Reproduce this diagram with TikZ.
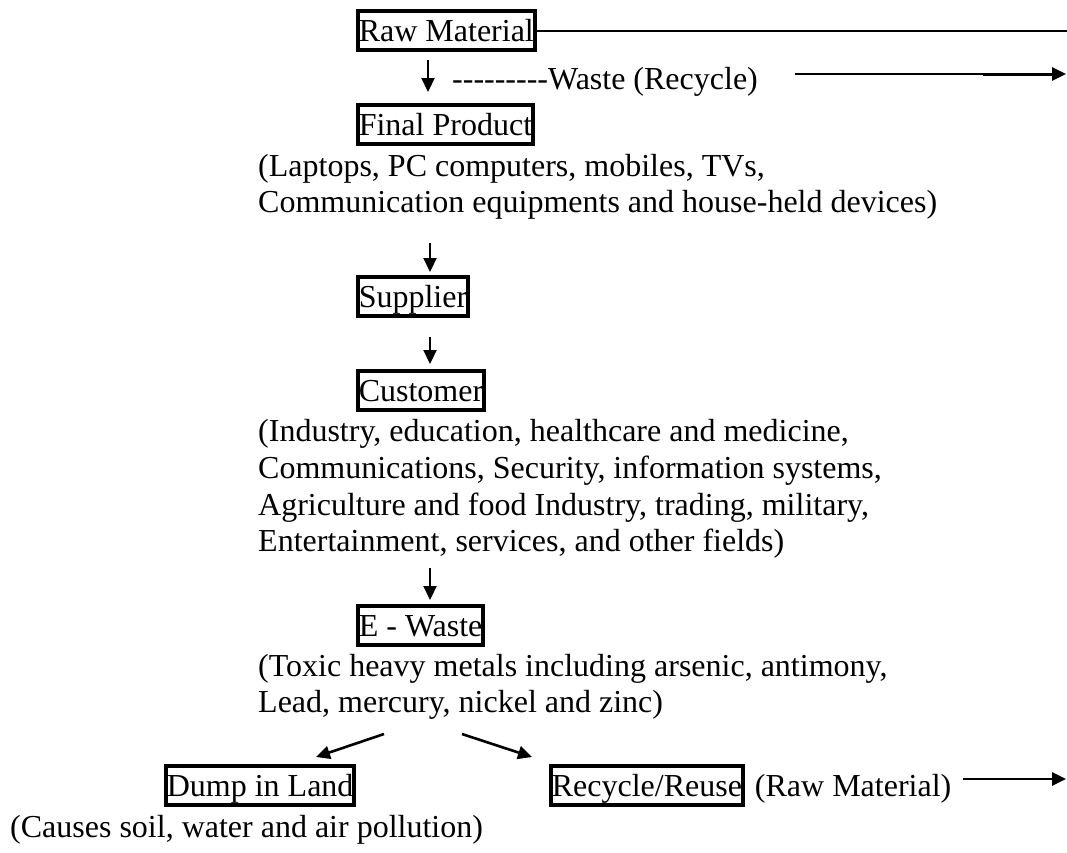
\documentclass[tikz,border=0pt]{standalone}
\usepackage{fontspec}
\setmainfont{Liberation Serif}
\usetikzlibrary{arrows.meta,calc}
\newcommand\hyp{-\kern0pt}
\begin{document}
\begin{tikzpicture}[x=1pt,y=-1pt,
  every node/.style={font=\fontsize{32}{36}\selectfont},
  boxnode/.style={draw,line width=4pt,inner xsep=0.8pt,inner ysep=2.8pt,text height=27.5pt,text depth=6.5pt,anchor=base west},
  txt/.style={inner sep=0pt,anchor=base west},
  arr/.style={line width=2.2pt,-{Triangle[length=14pt,width=13pt]}},
  darr/.style={line width=2.6pt,-{Triangle[length=14pt,width=13pt]}},
  ln/.style={line width=2pt}]
\useasboundingbox (0,0) rectangle (1067,852);
% boxes
\node[boxnode] (raw) at (356,41) {Raw Material};
\node[boxnode] (final) at (356,135) {Final Product};
\node[boxnode] (supp) at (356,307) {Supplier};
\node[boxnode] (cust) at (356,401) {Customer};
\node[boxnode] (ewaste) at (356,636) {E - Waste};
\node[boxnode] (dump) at (164,796) {Dump in Land};
\node[boxnode] (recy) at (549,796) {Recycle/Reuse};
% texts
\node[txt] (wastetxt) at (452,89) {\hyp\hyp\hyp\hyp\hyp\hyp\hyp\hyp\hyp Waste (Recycle)};
\node[txt] (prod1) at (258,176) {(Laptops, PC computers, mobiles, TVs,};
\node[txt] (prod2) at (258,212) {Communication equipments and house-held devices)};
\node[txt] (cust1) at (258,441) {(Industry, education, healthcare and medicine,};
\node[txt] (cust2) at (258,478) {Communications, Security, information systems,};
\node[txt] (cust3) at (258,515) {Agriculture and food Industry, trading, military,};
\node[txt] (cust4) at (258,551) {Entertainment, services, and other fields)};
\node[txt] (tox1) at (258,676) {(Toxic heavy metals including arsenic, antimony,};
\node[txt] (tox2) at (258,712) {Lead, mercury, nickel and zinc)};
\node[txt] (rawmat) at ($(recy.base east)+(10,0)$) {(Raw Material)};
\node[txt] (causes) at (10,837) {(Causes soil, water and air pollution)};
% free ends
\coordinate (topend) at (1067,29);
\coordinate (wstart) at (795,74);
\coordinate (wmid) at (983,74);
\coordinate (wasteend) at (1066,74);
\coordinate (bstart) at (963,779);
\coordinate (botend) at (1066,779);
% connectors
\draw[ln] (raw.east) -- (raw.east -| topend);
\draw[arr] (428,60) -- (428,92);
\draw[ln] (wstart) -- (wmid);
\draw[arr,line width=3pt] (wmid) -- (wasteend);
\draw[arr] (430,243) -- (430,272);
\draw[arr] (430,337) -- (430,364);
\draw[arr] (430,568) -- (430,600);
\draw[darr] (384,734) -- (316,757);
\draw[darr] (462,734) -- (532,757);
\draw[arr,line width=2.6pt] (bstart) -- (botend);
\end{tikzpicture}
\end{document}
